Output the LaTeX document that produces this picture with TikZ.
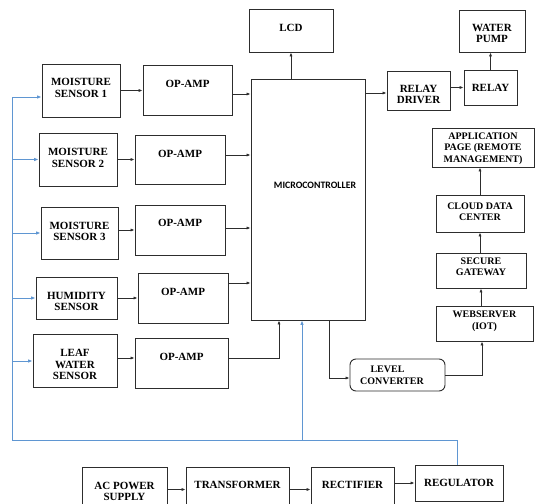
\documentclass[tikz,border=0pt]{standalone}
\usepackage{fontspec}
\setmainfont{Liberation Serif}
\newfontfamily\carl{Carlito}
\usetikzlibrary{arrows.meta}
\definecolor{blueline}{RGB}{95,150,210}
\definecolor{ln}{RGB}{45,45,45}
\begin{document}
\begin{tikzpicture}[x=1pt,y=-1pt,
 bx/.style={draw=ln, line width=0.9pt, align=center, inner sep=0pt, text=black},
 big/.style={font=\bfseries\fontsize{11}{11.5}\selectfont, text height=7.3pt},
 sml/.style={font=\bfseries\fontsize{10}{11.5}\selectfont, text height=6.6pt},
 arr/.style={draw=ln, line width=0.8pt, -{Latex[length=4pt,width=3.2pt]}},
 barr/.style={draw=blueline, line width=1pt, -{Latex[length=4.5pt,width=3.6pt]}},
 bln/.style={draw=blueline, line width=1pt},
 mlab/.style={font=\carl\bfseries\fontsize{9.8}{12}\selectfont, inner sep=0pt}]
\useasboundingbox (0,0) rectangle (535,503);
\clip (0,0) rectangle (535,503);
\fill[white] (0,0) rectangle (535,503);

% left column
\node[bx,big,minimum width=84pt,minimum height=43pt,text depth=5pt] (lcd) at (291,30.5) {LCD};
\node[bx,big,minimum width=78pt,minimum height=53pt,text height=18.8pt,text depth=5pt] (ms1) at (81,90.5) {MOISTURE\\SENSOR 1};
\node[bx,big,minimum width=89pt,minimum height=50pt,text depth=12pt] (op1) at (187.5,90) {OP-AMP};
\node[bx,big,minimum width=78pt,minimum height=53pt,text height=18.8pt,text depth=3pt] (ms2) at (78,159.5) {MOISTURE\\SENSOR 2};
\node[bx,big,minimum width=90pt,minimum height=49pt,text depth=11pt] (op2) at (180,159.5) {OP-AMP};
\node[bx,big,minimum width=77pt,minimum height=52pt,text height=18.8pt,text depth=3pt] (ms3) at (79.5,233) {MOISTURE\\SENSOR 3};
\node[bx,big,minimum width=90pt,minimum height=50pt,text depth=14pt] (op3) at (180,230) {OP-AMP};
\node[bx,big,minimum width=81pt,minimum height=42pt,text height=25.8pt,text depth=0pt] (hum) at (76.5,298) {HUMIDITY\\SENSOR};
\node[bx,big,minimum width=90pt,minimum height=50pt,text depth=12pt] (op4) at (183,298) {OP-AMP};
\node[bx,big,minimum width=84pt,minimum height=53pt,text height=38.3pt,text depth=0pt] (leaf) at (75,360.5) {LEAF\\WATER\\SENSOR};
\node[bx,big,minimum width=93pt,minimum height=50pt,text depth=12pt] (op5) at (181.5,363) {OP-AMP};

% microcontroller
\node[bx,minimum width=114pt,minimum height=241pt,
  label={[mlab,xshift=7pt,yshift=14.5pt]center:MICROCONTROLLER}] (micro) at (308,199.5) {};

% right side
\node[bx,big,minimum width=63pt,minimum height=39pt,text height=26.8pt,text depth=0pt] (rd) at (418.5,90.5) {RELAY\\DRIVER};
\node[bx,big,minimum width=53pt,minimum height=35pt,text depth=0pt] (relay) at (490.5,87.5) {RELAY};
\node[bx,big,minimum width=66pt,minimum height=42pt,text height=23.8pt,text depth=0pt] (pump) at (492,31) {WATER\\PUMP};
\node[bx,sml,minimum width=102pt,minimum height=39pt,text height=29.6pt,text depth=0pt] (app) at (483,147.5) {APPLICATION\\PAGE (REMOTE\\MANAGEMENT)};
\node[bx,sml,minimum width=88pt,minimum height=37pt,text height=18.1pt,text depth=4pt] (cloud) at (480,213.5) {CLOUD DATA\\CENTER};
\node[bx,sml,minimum width=90pt,minimum height=35pt,text height=18.1pt,text depth=8pt] (gate) at (481,270.5) {SECURE\\GATEWAY};
\node[bx,sml,minimum width=97pt,minimum height=35pt,text height=18.1pt,text depth=7pt] (web) at (484.5,323.5) {WEBSERVER\\(IOT)};
\node[bx,sml,rounded corners=6pt,minimum width=95pt,minimum height=32pt,text height=18.1pt,text depth=0pt] (level) at (397.5,375) {LEVEL\hspace*{20pt}\\CONVERTER\hspace*{11pt}};

% power chain
\node[bx,big,minimum width=85pt,minimum height=45pt,text height=22.8pt,text depth=0pt] (ac) at (124.5,489.5) {AC POWER\\SUPPLY};
\node[bx,big,minimum width=103pt,minimum height=45pt,text depth=9pt] (trans) at (237.5,489.5) {TRANSFORMER};
\node[bx,big,minimum width=83pt,minimum height=45pt,text depth=9pt] (rect) at (352.5,489.5) {RECTIFIER};
\node[bx,big,minimum width=88pt,minimum height=36pt,text depth=0pt] (reg) at (459,483) {REGULATOR};

% sensor chain connectors
\draw[arr] (ms1.east) -- (ms1.east -| op1.west);
\draw[arr] ([yshift=-4pt]op1.east) -- ([yshift=-4pt]op1.east -| micro.west);
\draw[arr] (ms2.east) -- (ms2.east -| op2.west);
\draw[arr] ([yshift=4.5pt]op2.east) -- ([yshift=4.5pt]op2.east -| micro.west);
\draw[arr] ([yshift=3pt]ms3.east) -- ([yshift=3pt]ms3.east -| op3.west);
\draw[arr] ([yshift=2pt]op3.east) -- ([yshift=2pt]op3.east -| micro.west);
\draw[arr] (hum.east) -- (hum.east -| op4.west);
\draw[arr] ([yshift=15pt]op4.east) -- ([yshift=15pt]op4.east -| micro.west);
\draw[arr] ([yshift=2.5pt]leaf.east) -- ([yshift=2.5pt]leaf.east -| op5.west);
\draw[arr] ([yshift=5pt]op5.east) -| ([xshift=-29pt]micro.south);

% outputs
\draw[arr] (micro.north -| lcd.south) -- (lcd.south);
\draw[arr] ([yshift=-2.5pt]rd.west -| micro.east) -- ([yshift=-2.5pt]rd.west);
\draw[arr] (rd.east |- relay.west) -- (relay.west);
\draw[arr] (relay.north) -- (relay.north |- pump.south);
\draw[arr] ([xshift=21pt]micro.south) |- ([yshift=-3pt]level.west);
\draw[arr] (level.east) -| ([xshift=-2.5pt]web.south);
\draw[arr] (gate.south |- web.north) -- (gate.south);
\draw[arr] (cloud.south |- gate.north) -- (cloud.south);
\draw[arr] (cloud.north) -- (cloud.north |- app.south);

% power connectors
\draw[arr] (ac.east) -- (trans.west);
\draw[arr] (trans.east) -- (rect.west);
\draw[arr] (rect.east |- reg.west) -- (reg.west);

% blue supply lines
\coordinate (sb) at (12,440);
\coordinate (st) at (12,97);
\draw[bln] ([xshift=-2pt]reg.north) |- (sb) -- (st);
\draw[barr] (st) -- (st -| ms1.west);
\draw[barr] (ms2.west -| sb) -- (ms2.west);
\draw[barr] (ms3.west -| sb) -- (ms3.west);
\draw[barr] (hum.west -| sb) -- (hum.west);
\draw[barr] ([yshift=-0.5pt]leaf.west -| sb) -- ([yshift=-0.5pt]leaf.west);
\draw[barr] ([xshift=-6pt]micro.south |- sb) -- ([xshift=-6pt]micro.south);
\end{tikzpicture}
\end{document}
